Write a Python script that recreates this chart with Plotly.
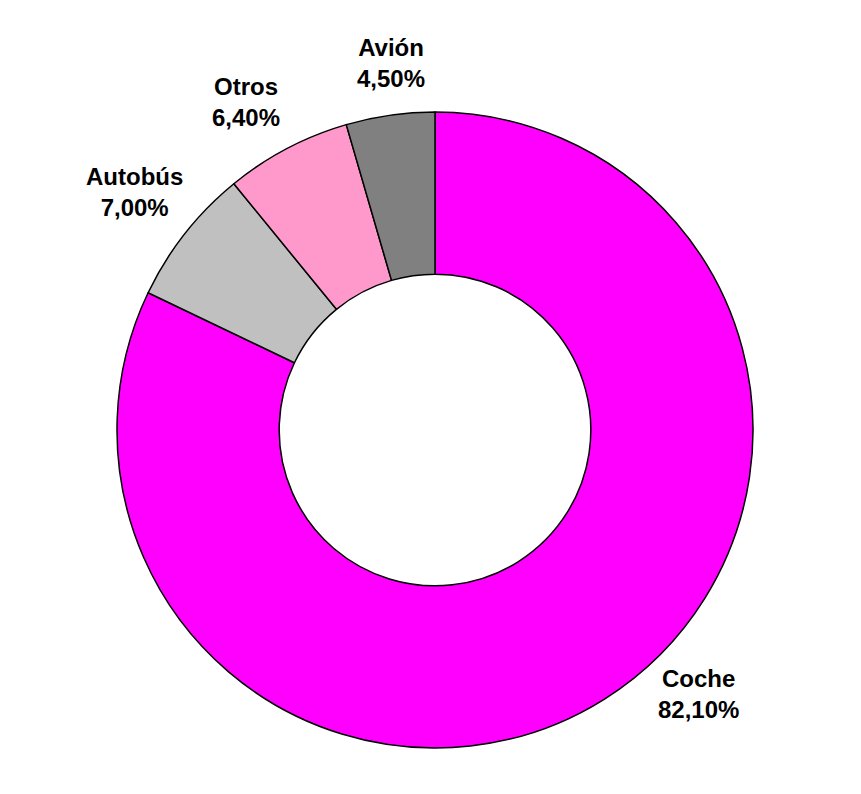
import plotly.graph_objects as go

# Share of trips by means of transport
categories = ["Coche", "Autobús", "Otros", "Avión"]
shares = [82.10, 7.00, 6.40, 4.50]
colors = ["#FF00FF", "#C0C0C0", "#FF99CC", "#808080"]

# Label anchor points (paper coordinates), one per category
label_x = [0.915, 0.028, 0.203, 0.431]
label_y = [0.085, 0.874, 1.016, 1.077]


def fmt_pct(v):
    return f"{v:.2f}%".replace(".", ",")


fig = go.Figure(
    go.Pie(
        labels=categories,
        values=shares,
        textinfo="none",
        hole=0.49,
        sort=False,
        direction="clockwise",
        rotation=0,
        marker=dict(colors=colors, line=dict(color="#000000", width=1.5)),
        showlegend=False,
        hoverinfo="label+percent",
    )
)

for name, v, x, y in zip(categories, shares, label_x, label_y):
    fig.add_annotation(
        x=x,
        y=y,
        xref="paper",
        yref="paper",
        text=f"{name}<br>{fmt_pct(v)}",
        showarrow=False,
        xanchor="center",
        yanchor="middle",
        align="center",
        font=dict(family="Liberation Sans, Arial, sans-serif", size=24, color="#000000", weight="bold"),
    )

fig.update_layout(
    width=861,
    height=794,
    margin=dict(l=117, r=108, t=112, b=46),
    paper_bgcolor="#ffffff",
    plot_bgcolor="#ffffff",
)

fig.write_html("out.html")
